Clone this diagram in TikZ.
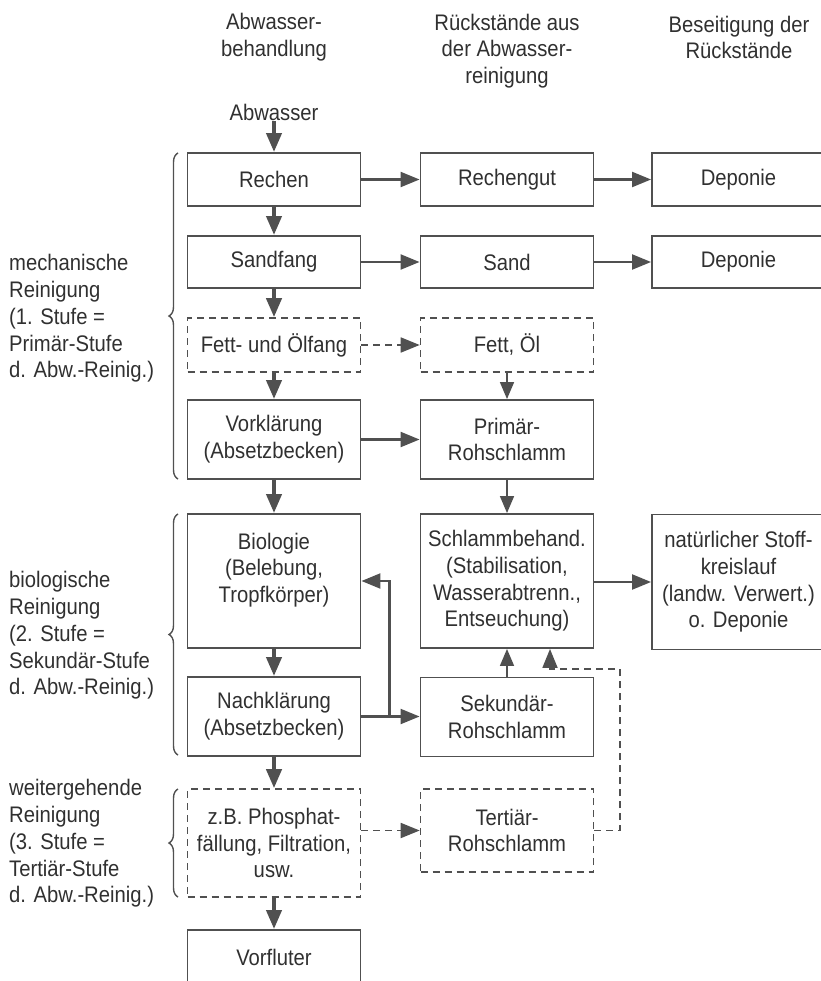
\documentclass[tikz,border=0pt]{standalone}
\usepackage{fontspec}
\setmainfont[FakeStretch=0.9]{Liberation Sans}
\usetikzlibrary{arrows.meta,decorations.pathreplacing}
\definecolor{linegray}{HTML}{505050}
\definecolor{textgray}{HTML}{303030}

\begin{document}
\begin{tikzpicture}[x=1pt,y=-1pt,
        font=\fontsize{22.5}{26.7}\selectfont,
        every node/.style={text=textgray},
        box/.style={draw=linegray,line width=1.9pt,minimum width=173pt,align=center,inner sep=0pt},
        dbox/.style={box,line width=1.6pt,dash pattern=on 7pt off 5pt},
        bigarrow/.style={draw=linegray,line width=4pt,-{Triangle[length=19pt,width=15pt]}},
        arrow/.style={draw=linegray,line width=2.2pt,-{Triangle[length=19pt,width=15pt]}},
        thinarrow/.style={draw=linegray,line width=1.6pt,-{Triangle[length=17pt,width=14pt]}},
        darrow/.style={arrow,line width=1.8pt,dash pattern=on 7pt off 5pt},
        stage/.style={align=left,anchor=west,inner sep=0pt},
        klammer/.style={draw=linegray,line width=1.4pt,decorate,decoration={brace,amplitude=9pt}}]
        \useasboundingbox (0,0) rectangle (820,981);
        \node[align=center] (kopfa) at (274,37.5) {Abwasser-\\behandlung};
        \node[align=center] (kopfb) at (507,51) {Rückstände aus\\der Abwasser-\\reinigung};
        \node[align=center] (kopfc) at (739,37.5) {Beseitigung der\\Rückstände};
        \node[inner sep=1pt] (abwasser) at (274,112) {Abwasser};
        \node[box,minimum height=53pt] (rechen) at (274,179.5) {Rechen};
        \node[box,minimum height=52pt] (sandfang) at (274,262) {Sandfang};
        \node[dbox,minimum height=54pt] (fettfang) at (274,345) {Fett- und Ölfang};
        \node[box,minimum height=79pt] (vorkl) at (274,439.5) {Vorklärung\\(Absetzbecken)};
        \node[box,minimum height=134pt] (bio) at (274,581) {Biologie\\(Belebung,\\Tropfkörper)\\\mbox{}};
        \node[box,minimum height=79pt] (nachkl) at (274,716.5) {Nachklärung\\(Absetzbecken)};
        \node[dbox,minimum height=108pt] (phosphat) at (274,843) {z.B. Phosphat-\\fällung, Filtration,\\usw.};
        \node[box,minimum height=54pt] (vorfluter) at (274,957) {Vorfluter};
        \node[box,minimum height=53pt] (rechengut) at (507,179.5) {Rechengut};
        \node[box,minimum height=52pt] (sand) at (507,262) {Sand};
        \node[dbox,minimum height=54pt] (fettoel) at (507,345) {Fett, Öl};
        \node[box,minimum height=79pt] (primaer) at (507,439.5) {Primär-\\Rohschlamm};
        \node[box,minimum height=134pt] (schlamm) at (507,581) {Schlammbehand.\\(Stabilisation,\\Wasserabtrenn.,\\Entseuchung)};
        \node[box,minimum height=79pt] (sekundaer) at (507,717) {Sekundär-\\Rohschlamm};
        \node[dbox,minimum height=83pt] (tertiaer) at (507,830.5) {Tertiär-\\Rohschlamm};
        \node[box,minimum height=53pt] (deponiea) at (738.5,179.5) {Deponie};
        \node[box,minimum height=52pt] (deponieb) at (738.5,262) {Deponie};
        \node[box,minimum height=135pt] (kreislauf) at (738.5,582) {natürlicher Stoff-\\kreislauf\\(landw. Verwert.)\\o. Deponie};
        \node[stage] (mech) at (9,318.5) {mechanische\\Reinigung\\(1. Stufe =\\Primär-Stufe\\d. Abw.-Reinig.)};
        \node[stage] (biol) at (9,635.5) {biologische\\Reinigung\\(2. Stufe =\\Sekundär-Stufe\\d. Abw.-Reinig.)};
        \node[stage] (weiter) at (9,843.5) {weitergehende\\Reinigung\\(3. Stufe =\\Tertiär-Stufe\\d. Abw.-Reinig.)};
        \draw[klammer] (178,479) -- (178,153);
        \draw[klammer] (178,755) -- (178,514);
        \draw[klammer] (178,897) -- (178,789);
        \draw[bigarrow] (abwasser) -- (rechen);
        \draw[bigarrow] (rechen) -- (sandfang);
        \draw[bigarrow] (sandfang) -- (fettfang);
        \draw[bigarrow] (fettfang) -- (vorkl);
        \draw[bigarrow] (vorkl) -- (bio);
        \draw[bigarrow] (bio) -- (nachkl);
        \draw[bigarrow] (nachkl) -- (phosphat);
        \draw[bigarrow] (phosphat) -- (vorfluter);
        \draw[arrow] (rechen) -- (rechengut);
        \draw[arrow] (rechengut) -- (deponiea);
        \draw[arrow] (sandfang) -- (sand);
        \draw[arrow] (sand) -- (deponieb);
        \draw[darrow] (fettfang) -- (fettoel);
        \draw[thinarrow] (fettoel) -- (primaer);
        \draw[arrow] (vorkl) -- (primaer);
        \draw[thinarrow] (primaer) -- (schlamm);
        \draw[arrow] (schlamm.east |- kreislauf.west) -- (kreislauf.west);
        \draw[arrow] (nachkl.east) -- (nachkl.east -| sekundaer.west);
        \path (nachkl.east) ++(28,0) coordinate (abzweig);
        \draw[arrow] (abzweig) |- (bio.east);
        \draw[thinarrow] (sekundaer) -- (schlamm);
        \draw[darrow] (phosphat.east |- tertiaer.west) -- (tertiaer.west);
        \coordinate (knick) at (620,669);
        \draw[darrow] (tertiaer.east) -| (knick) -| ([xshift=43pt]schlamm.south);
\end{tikzpicture}
\end{document}
